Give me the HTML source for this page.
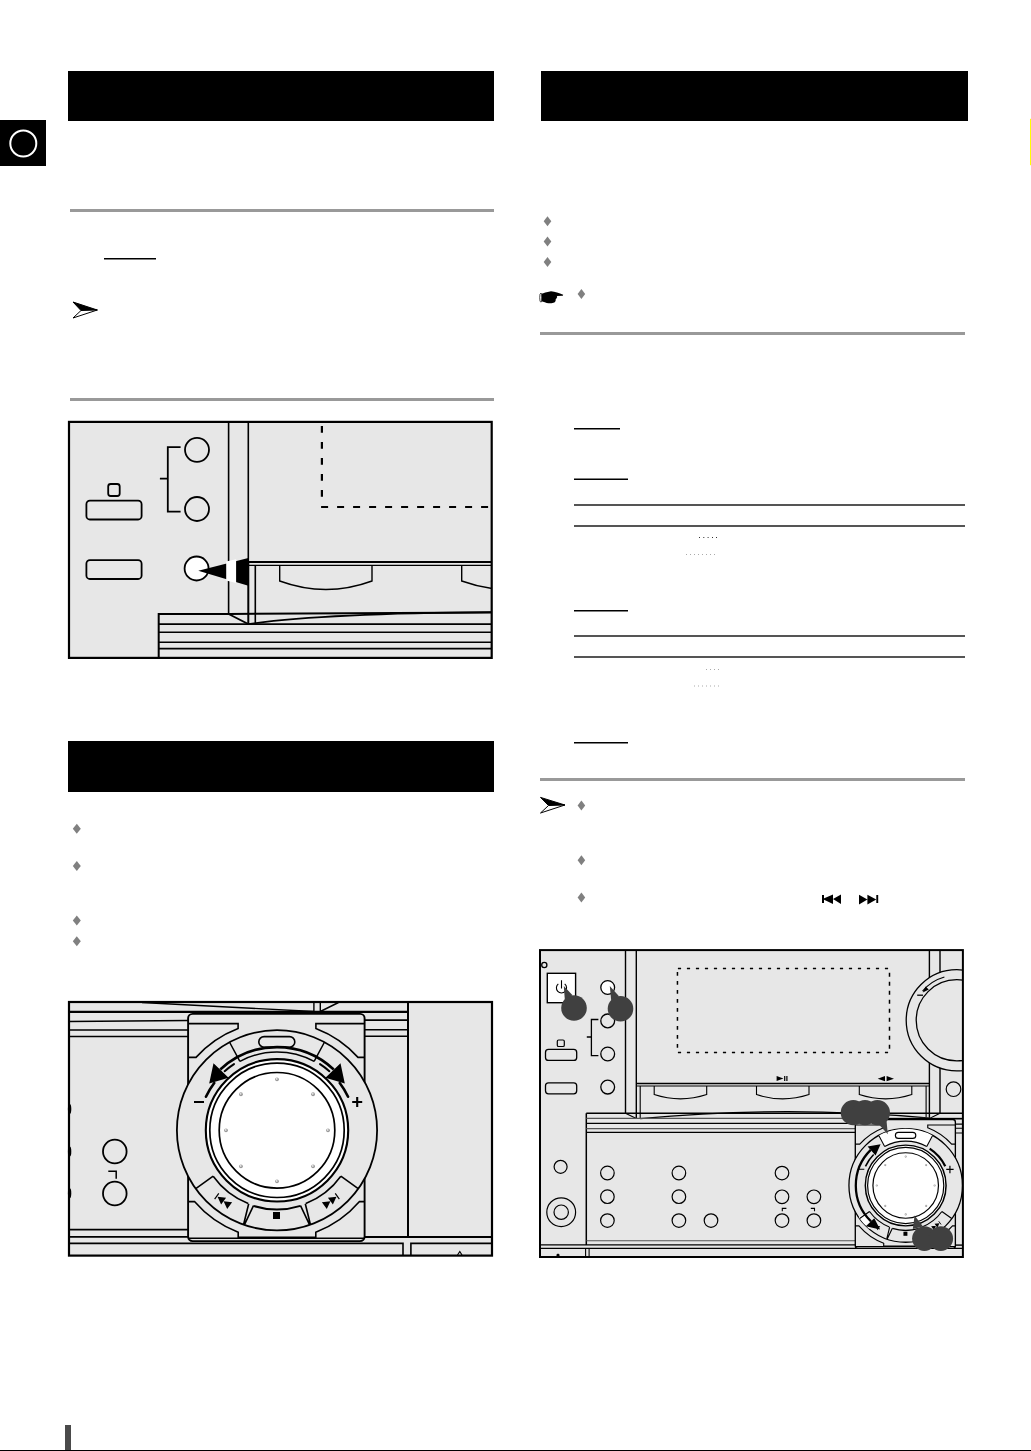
<!DOCTYPE html>
<html><head><meta charset="utf-8">
<style>
html,body{margin:0;padding:0;background:#fff;}
body{width:1031px;height:1451px;overflow:hidden;position:relative;font-family:"Liberation Sans",sans-serif;}
svg{position:absolute;left:0;top:0;}
</style></head>
<body>
<svg width="1031" height="1451" viewBox="0 0 1031 1451">
<!-- ===== page furniture ===== -->
<rect x="68" y="71" width="426" height="50" fill="#000"/>
<rect x="541" y="71" width="427" height="50" fill="#000"/>
<rect x="68" y="741" width="426" height="51" fill="#000"/>
<rect x="0" y="120" width="46" height="46" fill="#000"/>
<circle cx="23.3" cy="143.5" r="13" fill="none" stroke="#fff" stroke-width="2"/>
<rect x="1030" y="118.8" width="1" height="46.4" fill="#ffff00"/>

<!-- gray separators -->
<rect x="70" y="209" width="424" height="3" fill="#999"/>
<rect x="70" y="398" width="424" height="3" fill="#999"/>
<rect x="540" y="332" width="425" height="3" fill="#999"/>
<rect x="540" y="778" width="425" height="3" fill="#999"/>

<!-- underlines -->
<rect x="104" y="258" width="52" height="1.5" fill="#000"/>
<rect x="574" y="428" width="46" height="1.5" fill="#000"/>
<rect x="574" y="478.5" width="54" height="1.5" fill="#000"/>
<rect x="574" y="610" width="54" height="1.5" fill="#000"/>
<rect x="574" y="742" width="54" height="1.5" fill="#000"/>

<!-- dark table lines -->
<rect x="574" y="504" width="391" height="2" fill="#555"/>
<rect x="574" y="525" width="391" height="2" fill="#555"/>
<rect x="574" y="635" width="391" height="2" fill="#555"/>
<rect x="574" y="656" width="391" height="2" fill="#555"/>

<!-- dotted leaders -->
<g fill="#333">
<path d="M699 537h1v1h-1zM703.3 537h1v1h-1zM707.6 537h1v1h-1zM712 537h1v1h-1zM716 537h1v1h-1z"/>
</g>
<g fill="#aaa">
<path d="M686 554h1v1h-1zM690 554h1v1h-1zM694 554h1v1h-1zM698 554h1v1h-1zM702 554h1v1h-1zM706 554h1v1h-1zM710 554h1v1h-1zM714 554h1v1h-1z"/>
<path d="M706 669h1v1h-1zM710 669h1v1h-1zM714 669h1v1h-1zM718 669h1v1h-1z"/>
<path d="M694 685.5h1v1h-1zM698 685.5h1v1h-1zM702 685.5h1v1h-1zM706 685.5h1v1h-1zM710 685.5h1v1h-1zM714 685.5h1v1h-1zM718 685.5h1v1h-1z"/>
</g>

<!-- diamonds -->
<g fill="#808080">
<path d="M76.8 823.8l4 5-4 5-4-5z"/>
<path d="M76.8 861.1l4 5-4 5-4-5z"/>
<path d="M76.8 915.6l4 5-4 5-4-5z"/>
<path d="M76.8 936.3l4 5-4 5-4-5z"/>
<path d="M547.5 216.2l3.8 5-3.8 5-3.8-5z"/>
<path d="M547.5 236.6l3.8 5-3.8 5-3.8-5z"/>
<path d="M547.5 256.9l3.8 5-3.8 5-3.8-5z"/>
<path d="M581.4 288.9l3.8 5-3.8 5-3.8-5z"/>
<path d="M581.4 800.6l3.8 5-3.8 5-3.8-5z"/>
<path d="M581.4 855.2l3.8 5-3.8 5-3.8-5z"/>
<path d="M581.4 892.6l3.8 5-3.8 5-3.8-5z"/>
</g>

<!-- note arrows -->
<g stroke="#000" stroke-width="1" stroke-linejoin="miter">
<path d="M73 302 L97.3 310 L81 310.5 Z" fill="#000"/>
<path d="M81 310.5 L97.3 310 L73 318 Z" fill="#fff"/>
<path d="M540.5 797.4 L564.9 805 L548.5 805.5 Z" fill="#000"/>
<path d="M548.5 805.5 L564.9 805 L540.5 813 Z" fill="#fff"/>
</g>

<!-- pointing hand -->
<path d="M541.5 293.8C544 293 546 292.3 551 291.3C555 291.5 559 293 563.2 294.8L562.8 295.8L556.8 296C557.4 296.6 557.2 297.5 556.7 297.9C556.2 298.6 555.8 299 555.6 299.5C555.8 300.3 555.6 301 555.4 301.2C555 302.5 553 303.3 548.6 303.3C546 303 543.5 301.8 541.5 301.3Z" fill="#000"/>
<ellipse cx="540.9" cy="297.6" rx="1.2" ry="4.6" fill="none" stroke="#000" stroke-width="0.7"/>

<!-- skip icons -->
<g fill="#000">
<rect x="822" y="895" width="2" height="8"/>
<path d="M822.5 899L833 894.4V903.9Z M833 899L841 894.4V903.9Z"/>
<path d="M859 894.7V904.4L867.4 899.5Z M867.4 894.7V904.4L876.3 899.5Z"/>
<rect x="876.3" y="895" width="1.9" height="8"/>
</g>

<!-- footer bar -->
<rect x="65" y="1425" width="6" height="26" fill="#4a4a4a"/>
<rect x="0" y="1450" width="1031" height="1" fill="#000"/>

<!-- ILLUSTRATIONS -->
<g id="illA" fill="none" stroke="#000" stroke-width="1.6">
<rect x="69" y="421.9" width="422.7" height="236" fill="#e7e7e7" stroke="none"/>
<!-- dashed display -->
<path d="M321.9 426.1V500" stroke-width="2.2" stroke-dasharray="6.7 9.3"/>
<path d="M321.1 507H492" stroke-width="2.2" stroke-dasharray="7 9"/>
<!-- uprights -->
<path d="M228.6 422V613.9"/>
<path d="M248.3 422V562"/>
<!-- shelf -->
<path d="M248.3 562H492" stroke-width="2"/>
<path d="M248.3 565.3H492" stroke-width="1.3"/>
<path d="M248.3 562V624.1" stroke-width="2"/>
<path d="M255.3 565.3V624.1"/>
<!-- tray slots -->
<path d="M279.7 565.3V581Q326 598 372 581V565.3" stroke-width="1.4"/>
<path d="M461.7 565.3V581Q477 586.5 492 588.5" stroke-width="1.4"/>
<!-- bottom strips -->
<path d="M158.7 657.5V613.9H228.6L492 612.4" stroke-width="2"/>
<path d="M228.6 613.9L248.3 624.1Q320 613.5 492 612.2" stroke-width="1.7"/>
<path d="M158.7 624.1H492"/>
<path d="M158.7 632.3H492"/>
<path d="M158.7 642.2H492"/>
<path d="M158.7 648.6H492"/>
<!-- controls -->
<circle cx="197" cy="449.8" r="12" stroke-width="1.8"/>
<circle cx="197" cy="509" r="12" stroke-width="1.8"/>
<path d="M180.6 447.2H167.8V511.6H180.6M159.9 478.6H167.8" stroke-width="1.8"/>
<rect x="108.2" y="484" width="11.5" height="12" rx="2.5" stroke-width="1.8"/>
<rect x="86.4" y="500.7" width="55.2" height="18.8" rx="3.5" stroke-width="1.8"/>
<rect x="86.4" y="560.2" width="55.2" height="18.8" rx="3.5" stroke-width="1.8"/>
<circle cx="196.6" cy="568.5" r="12" fill="#fff" stroke-width="1.8"/>
<path d="M198.3 570.8L248.3 558V585.7Z" fill="#000" stroke="none"/>
<path d="M226.2 561.6L236.1 559.2V583L226.2 580.4Z" fill="#fff" stroke="none"/>
<!-- border -->
<rect x="69" y="421.9" width="422.7" height="236" stroke-width="2.2"/>
</g>
<g id="illB" fill="none" stroke="#000" stroke-width="1.6">
<rect x="69" y="1002" width="423" height="253.6" fill="#e7e7e7" stroke="none"/>
<path d="M142 1002.5L313.9 1011.5M313.9 1002V1011.5M320.3 1002V1011.5L338.5 1002.5" stroke-width="1.4"/>
<path d="M69 1011.8H408" stroke-width="2.2"/>
<path d="M69 1021.5L188 1020.5M69 1030H188M69 1036.5H188" stroke-width="1.6"/>
<path d="M364.6 1020.1H408M364.6 1029.8H408M364.6 1036.3H408" stroke-width="1.6"/>
<path d="M408 1002V1237" stroke-width="2"/>
<path d="M69 1229.6H188M69 1236.9H188" stroke-width="1.6"/>
<path d="M364.6 1237H492" stroke-width="1.8"/>
<path d="M69 1243.4H403V1256M410.9 1256V1243.4H492" stroke-width="1.6"/>
<path d="M457.5 1255L459.8 1251.5L462 1255" stroke-width="1.2"/>
<ellipse cx="69.6" cy="1109" rx="1.7" ry="5" fill="#000" stroke="none"/>
<ellipse cx="69.6" cy="1151.5" rx="1.7" ry="5" fill="#000" stroke="none"/>
<ellipse cx="69.6" cy="1193.2" rx="1.7" ry="5" fill="#000" stroke="none"/>
<circle cx="114.8" cy="1151.5" r="11.8" stroke-width="1.8"/>
<circle cx="114.8" cy="1193.5" r="11.8" stroke-width="1.8"/>
<path d="M108.3 1171.2H116.2V1178.8" stroke-width="1.5"/>
<rect x="188.1" y="1013.9" width="176.5" height="227.2" rx="4.5" fill="#e7e7e7" stroke-width="1.9"/>
<path d="M188.1 1238.2H364.6" stroke-width="1.6"/>
<path d="M188.1 1023.6H238.1V1028.5 A109 109 0 0 0 196 1057.4 H188.1 M364.6 1023.6H315.9V1028.5 A109 109 0 0 1 358 1057.4 H364.6 M188.1 1201.6H194.5 A109 109 0 0 0 238.2 1232.3 V1237.3 H315.8 V1232.3 A109 109 0 0 0 359.5 1201.6 H364.6" stroke-width="1.6"/>
<circle cx="277" cy="1130.3" r="100.1" fill="#e7e7e7" stroke-width="1.8"/>
<path d="M239.88 1061.36 L229.59 1042.25 M314.12 1061.36 L324.41 1042.25" stroke-width="1.5"/>
<path d="M239.88 1061.36 A78.3 78.3 0 0 1 314.12 1061.36" stroke-width="1.5"/>
<rect x="258.8" y="1036.6" width="36" height="10.6" rx="5.3" stroke-width="1.6"/>
<path d="M220.26 1069.45 A83.2 83.2 0 0 1 333.74 1069.45" stroke-width="2.6"/>
<path d="M224.65 1071.13 A79 79 0 0 1 233.97 1064.05 M320.03 1064.05 A79 79 0 0 1 329.35 1071.13" stroke-width="2" stroke-linecap="round"/>
<path d="M205.94 1096.71 A78.6 78.6 0 0 1 214.23 1083 M339.77 1083 A78.6 78.6 0 0 1 348.06 1096.71" stroke-width="2.6" stroke-linecap="round"/>
<path d="M213.5 1063.2L209.2 1083.6L228.6 1077.8Z M340.5 1063.2L344.8 1083.6L325.4 1077.8Z" fill="#000" stroke="none"/>
<path d="M194 1102H204M352.2 1102H362.2M357.2 1097V1107" stroke-width="2.1"/>
<path d="M213.17 1176.17 L195.79 1188.65 M340.83 1176.17 L358.21 1188.65 M248.19 1203.43 A78.6 78.6 0 0 1 213.17 1176.17 M305.81 1203.43 A78.6 78.6 0 0 0 340.83 1176.17" stroke-width="1.6"/>
<path d="M248.7 1203.8 L243.6 1224.5 M253.5 1205.7 L244.6 1224.4" stroke-width="1.6"/>
<path d="M305.3 1203.8 L310.4 1224.5 M300.5 1205.7 L309.4 1224.4" stroke-width="1.6"/>
<path d="M253.45 1205.92 A79.2 79.2 0 0 0 300.55 1205.92" stroke-width="2"/>
<circle cx="277" cy="1130.3" r="71.2" fill="#fff" stroke-width="2.1"/>
<circle cx="277" cy="1130.3" r="67.2" stroke-width="1.7"/>
<circle cx="277" cy="1130.3" r="57.8" stroke-width="1.7"/>
<circle cx="328" cy="1130.3" r="1.9" fill="#9a9a9a" stroke="none"/><circle cx="327.7" cy="1129.9" r="0.9" fill="#e8e8e8" stroke="none"/>
<circle cx="313.06" cy="1166.36" r="1.9" fill="#9a9a9a" stroke="none"/><circle cx="312.76" cy="1165.96" r="0.9" fill="#e8e8e8" stroke="none"/>
<circle cx="277" cy="1181.3" r="1.9" fill="#9a9a9a" stroke="none"/><circle cx="276.7" cy="1180.9" r="0.9" fill="#e8e8e8" stroke="none"/>
<circle cx="240.94" cy="1166.36" r="1.9" fill="#9a9a9a" stroke="none"/><circle cx="240.64" cy="1165.96" r="0.9" fill="#e8e8e8" stroke="none"/>
<circle cx="226" cy="1130.3" r="1.9" fill="#9a9a9a" stroke="none"/><circle cx="225.7" cy="1129.9" r="0.9" fill="#e8e8e8" stroke="none"/>
<circle cx="240.94" cy="1094.24" r="1.9" fill="#9a9a9a" stroke="none"/><circle cx="240.64" cy="1093.84" r="0.9" fill="#e8e8e8" stroke="none"/>
<circle cx="277" cy="1079.3" r="1.9" fill="#9a9a9a" stroke="none"/><circle cx="276.7" cy="1078.9" r="0.9" fill="#e8e8e8" stroke="none"/>
<circle cx="313.06" cy="1094.24" r="1.9" fill="#9a9a9a" stroke="none"/><circle cx="312.76" cy="1093.84" r="0.9" fill="#e8e8e8" stroke="none"/>
<rect x="273" y="1212" width="7" height="7" fill="#000" stroke="none"/>
<g transform="translate(224 1201.5) rotate(36)"><path d="M-9 -3.5V3.5" stroke-width="1.2"/><path d="M-8 0L-0.5 -4.2V4.2Z M-0.5 0L7 -4.2V4.2Z" fill="#000" stroke="none"/></g>
<g transform="translate(330 1201.5) rotate(-36)"><path d="M9 -3.5V3.5" stroke-width="1.2"/><path d="M8 0L0.5 -4.2V4.2Z M0.5 0L-7 -4.2V4.2Z" fill="#000" stroke="none"/></g>
<rect x="69" y="1002" width="423" height="253.6" stroke-width="2.2"/>
</g><!--/illB-->
<g id="illC" fill="none" stroke="#000" stroke-width="1.3">
<clipPath id="clipC"><rect x="540" y="950" width="423" height="307"/></clipPath>
<rect x="540" y="950" width="423" height="307" fill="#e7e7e7" stroke="none"/>
<g clip-path="url(#clipC)">
<path d="M625.5 950V1113.2M636.3 950V1118.6M929.4 950V1118.4M940 950V1113" stroke-width="1.4"/>
<path d="M636.3 1083.6H929.4" stroke-width="1.5"/>
<path d="M636.3 1086H929.4" stroke-width="1.1"/>
<path d="M640.2 1086V1118.6M926.1 1086V1117.6" stroke-width="1.1"/>
<path d="M677.9 968.4H889M677.9 1052.4H889" stroke-width="1.5" stroke-dasharray="3.2 5.8"/>
<path d="M677.45 971.9V1050M889.5 972.8V1050" stroke-width="1.5" stroke-dasharray="3.9 5.1"/>
<path d="M654.2 1086V1094.6Q680.45 1103.2 706.7 1094.6V1086" stroke-width="1.1"/>
<path d="M756.5 1086V1094.6Q782.75 1103.2 809 1094.6V1086" stroke-width="1.1"/>
<path d="M859.3 1086V1094.6Q885.55 1103.2 911.8 1094.6V1086" stroke-width="1.1"/>
<path d="M776.6 1075.9V1081.1L783.4 1078.5Z" fill="#000" stroke="none"/>
<path d="M784.1 1075.9h1.2v5.2h-1.2zM786.3 1075.9h1.2v5.2h-1.2z" fill="#000" stroke="none"/>
<path d="M877.7 1078.7L885 1076.1V1081.3Z M886.6 1076.1V1081.3L894 1078.7Z" fill="#000" stroke="none"/>
<circle cx="956.8" cy="1020.3" r="50.6" fill="#e7e7e7" stroke-width="1.3"/>
<circle cx="956.8" cy="1020.3" r="40.6" fill="#e7e7e7" stroke-width="1.3"/>
<path d="M922.58 991.07 A45 45 0 0 1 944.4 977.04" stroke-width="1.2"/>
<path d="M922.8 992.4L925.5 986.4L928.8 989.6Z" fill="#000" stroke="none"/>
<path d="M917.2 995.2H923" stroke-width="1.3"/>
<circle cx="953.5" cy="1089.2" r="7.3" stroke-width="1.2"/>
<circle cx="544.3" cy="965" r="2.6" stroke-width="1.3"/>
<rect x="547.3" y="973.3" width="28.3" height="29.4" fill="#fff" stroke-width="1.4"/>
<path d="M558.3 983.9A5.1 5.1 0 1 0 564.7 983.9M561.5 980.2V988.5" stroke-width="1.1"/>
<circle cx="607.7" cy="987.5" r="6.9" fill="#fff" stroke-width="1.3"/>
<circle cx="607.7" cy="1020.9" r="6.9" stroke-width="1.3"/>
<circle cx="607.7" cy="1054" r="6.9" stroke-width="1.3"/>
<circle cx="607.7" cy="1087.1" r="6.9" stroke-width="1.3"/>
<path d="M598.4 1019.5H591.4V1055.6H598.4M586.8 1037H591.4" stroke-width="1.3"/>
<rect x="557.3" y="1040" width="7" height="6.5" rx="1.3" stroke-width="1.2"/>
<rect x="545.5" y="1049.4" width="31.2" height="11" rx="3" stroke-width="1.3"/>
<rect x="545.5" y="1082.8" width="31.2" height="11" rx="3" stroke-width="1.3"/>
<circle cx="560.6" cy="1166.8" r="6.5" stroke-width="1.2"/>
<circle cx="561.2" cy="1212.2" r="14.4" stroke-width="1.2"/>
<circle cx="561.2" cy="1212.2" r="7.2" stroke-width="1.2"/>
<path d="M556.5 1256V1254.5L558 1253.5L559.5 1254.5V1256" fill="#000" stroke="none"/>
<path d="M586.3 1113.2H962.5M586.3 1113.2V1245" stroke-width="1.5"/>
<path d="M625.5 1113.2L636.3 1118.6" stroke-width="1.1"/>
<path d="M640.2 1118.6Q785 1105 930 1118.2L940 1113.2" stroke-width="1.2"/>
<path d="M586.3 1118.4H962.5" stroke="#555" stroke-width="1.2"/>
<path d="M855.2 1118.8H962.5" stroke-width="1.6"/>
<path d="M586.3 1123.3H855.2M586.3 1132.4H855.2" stroke-width="1.2"/>
<path d="M586.3 1128.6H855.2" stroke="#555" stroke-width="1.1"/>
<path d="M954.3 1124.1H962.5M954.3 1128.3H962.5M954.3 1133H962.5" stroke-width="1.1"/>
<path d="M586.3 1240.7H855.2" stroke="#555" stroke-width="1.1"/>
<path d="M540 1244.9H855.2" stroke-width="1.4"/>
<path d="M540 1248.3H962.5" stroke-width="1.2"/>
<path d="M585.6 1248.3V1257M589.1 1248.3V1257" stroke-width="1.1"/>
<path d="M954.3 1245.1H962.5" stroke-width="1.4"/>
<circle cx="607.4" cy="1173" r="6.8" stroke-width="1.2"/>
<circle cx="607.4" cy="1196.7" r="6.8" stroke-width="1.2"/>
<circle cx="607.4" cy="1220.6" r="6.8" stroke-width="1.2"/>
<circle cx="678.9" cy="1173" r="6.8" stroke-width="1.2"/>
<circle cx="678.9" cy="1196.7" r="6.8" stroke-width="1.2"/>
<circle cx="678.9" cy="1220.6" r="6.8" stroke-width="1.2"/>
<circle cx="711" cy="1220.6" r="6.8" stroke-width="1.2"/>
<circle cx="782" cy="1173.1" r="6.8" stroke-width="1.2"/>
<circle cx="782" cy="1196.8" r="6.8" stroke-width="1.2"/>
<circle cx="782" cy="1220.6" r="6.8" stroke-width="1.2"/>
<circle cx="813.9" cy="1196.8" r="6.8" stroke-width="1.2"/>
<circle cx="813.9" cy="1220.6" r="6.8" stroke-width="1.2"/>
<path d="M786.4 1208.4H782.3V1211.2M810.8 1208.4H814.5V1211.2" stroke-width="1.1"/>
<g transform="translate(905.7 1185.5) scale(0.567) translate(-277 -1130.3)"><rect x="188.1" y="1013.9" width="176.5" height="227.2" rx="4.5" fill="#e7e7e7" stroke-width="2.38"/><path d="M188.1 1238.2H364.6" stroke-width="2.00"/><path d="M188.1 1023.6H238.1V1028.5 A109 109 0 0 0 196 1057.4 H188.1 M364.6 1023.6H315.9V1028.5 A109 109 0 0 1 358 1057.4 H364.6 M188.1 1201.6H194.5 A109 109 0 0 0 238.2 1232.3 V1237.3 H315.8 V1232.3 A109 109 0 0 0 359.5 1201.6 H364.6" stroke-width="2.00"/><circle cx="277" cy="1130.3" r="100.1" fill="#e7e7e7" stroke-width="2.25"/><path d="M229.59 1042.25 A100 100 0 0 1 324.41 1042.25 L314.12 1061.36 A78.3 78.3 0 0 0 239.88 1061.36 Z" fill="#fff" stroke="none"/><path d="M212.72 1206.9 A100 100 0 0 1 194.1 1186.22 L204.04 1179.51 A88 88 0 0 0 220.43 1197.71 Z" fill="#fff" stroke="none"/><path d="M239.88 1061.36 L229.59 1042.25 M314.12 1061.36 L324.41 1042.25" stroke-width="1.88"/><path d="M239.88 1061.36 A78.3 78.3 0 0 1 314.12 1061.36" stroke-width="1.88"/><rect x="258.8" y="1036.6" width="36" height="10.6" rx="5.3" stroke-width="2.00"/><path d="M215.87 1193.6 A88 88 0 0 1 215.32 1067.53" stroke-width="4.00"/><path d="M220.46 1075.7 A78.6 78.6 0 0 0 206.06 1096.46" stroke-width="2.75"/><path d="M319.26 1065.22 A77.6 77.6 0 0 1 346.75 1096.28" stroke-width="4.00"/><path d="M232.7 1057.6L209.8 1061.5L223.9 1077.4Z M231.9 1207.7L206.6 1202.3L221.6 1188Z" fill="#000" stroke="none"/><path d="M193 1101.6H204M348.5 1102H361.5M355 1095.5V1108.5" stroke-width="2.12"/><path d="M213.17 1176.17 L195.79 1188.65 M340.83 1176.17 L358.21 1188.65 M248.19 1203.43 A78.6 78.6 0 0 1 213.17 1176.17 M305.81 1203.43 A78.6 78.6 0 0 0 340.83 1176.17" stroke-width="2.00"/><path d="M248.7 1203.8 L243.6 1224.5 M253.5 1205.7 L244.6 1224.4" stroke-width="2.00"/><path d="M305.3 1203.8 L310.4 1224.5 M300.5 1205.7 L309.4 1224.4" stroke-width="2.00"/><path d="M253.45 1205.92 A79.2 79.2 0 0 0 300.55 1205.92" stroke-width="2.50"/><circle cx="277" cy="1130.3" r="71.2" fill="#fff" stroke-width="2.62"/><circle cx="277" cy="1130.3" r="67.2" stroke-width="2.12"/><circle cx="277" cy="1130.3" r="57.8" stroke-width="2.12"/><circle cx="328" cy="1130.3" r="1.9" fill="#9a9a9a" stroke="none"/><circle cx="327.7" cy="1129.9" r="0.9" fill="#e8e8e8" stroke="none"/><circle cx="313.06" cy="1166.36" r="1.9" fill="#9a9a9a" stroke="none"/><circle cx="312.76" cy="1165.96" r="0.9" fill="#e8e8e8" stroke="none"/><circle cx="277" cy="1181.3" r="1.9" fill="#9a9a9a" stroke="none"/><circle cx="276.7" cy="1180.9" r="0.9" fill="#e8e8e8" stroke="none"/><circle cx="240.94" cy="1166.36" r="1.9" fill="#9a9a9a" stroke="none"/><circle cx="240.64" cy="1165.96" r="0.9" fill="#e8e8e8" stroke="none"/><circle cx="226" cy="1130.3" r="1.9" fill="#9a9a9a" stroke="none"/><circle cx="225.7" cy="1129.9" r="0.9" fill="#e8e8e8" stroke="none"/><circle cx="240.94" cy="1094.24" r="1.9" fill="#9a9a9a" stroke="none"/><circle cx="240.64" cy="1093.84" r="0.9" fill="#e8e8e8" stroke="none"/><circle cx="277" cy="1079.3" r="1.9" fill="#9a9a9a" stroke="none"/><circle cx="276.7" cy="1078.9" r="0.9" fill="#e8e8e8" stroke="none"/><circle cx="313.06" cy="1094.24" r="1.9" fill="#9a9a9a" stroke="none"/><circle cx="312.76" cy="1093.84" r="0.9" fill="#e8e8e8" stroke="none"/><rect x="273" y="1212" width="7" height="7" fill="#000" stroke="none"/><g transform="translate(224 1201.5) rotate(36)"><path d="M-9 -3.5V3.5" stroke-width="1.50"/><path d="M-8 0L-0.5 -4.2V4.2Z M-0.5 0L7 -4.2V4.2Z" fill="#000" stroke="none"/></g><g transform="translate(330 1201.5) rotate(-36)"><path d="M9 -3.5V3.5" stroke-width="1.50"/><path d="M8 0L0.5 -4.2V4.2Z M0.5 0L-7 -4.2V4.2Z" fill="#000" stroke="none"/></g></g>
</g>
<g fill="#404040" stroke="none">
<circle cx="574" cy="1008" r="12.8"/><path d="M563.8 986L564.8 999.8L572.6 995.2Z"/>
<circle cx="620.5" cy="1008.7" r="12.8"/><path d="M609.8 986L611.2 1000.2L619 996.2Z"/>
<circle cx="853.3" cy="1112.7" r="12.6"/><circle cx="865" cy="1112.7" r="12.6"/><circle cx="877.4" cy="1112.7" r="12.6"/><path d="M878.3 1123.8L886.5 1120.5L887.8 1134.2Z"/>
<circle cx="924.4" cy="1238.6" r="12.3"/><circle cx="940.8" cy="1238.6" r="12.3"/><path d="M912.8 1229L923 1226.5L914.6 1215.6Z"/>
</g>
<rect x="540" y="950.1" width="422.9" height="306.9" stroke-width="2"/>
</g><!--/illC-->
</svg>
</body></html>
